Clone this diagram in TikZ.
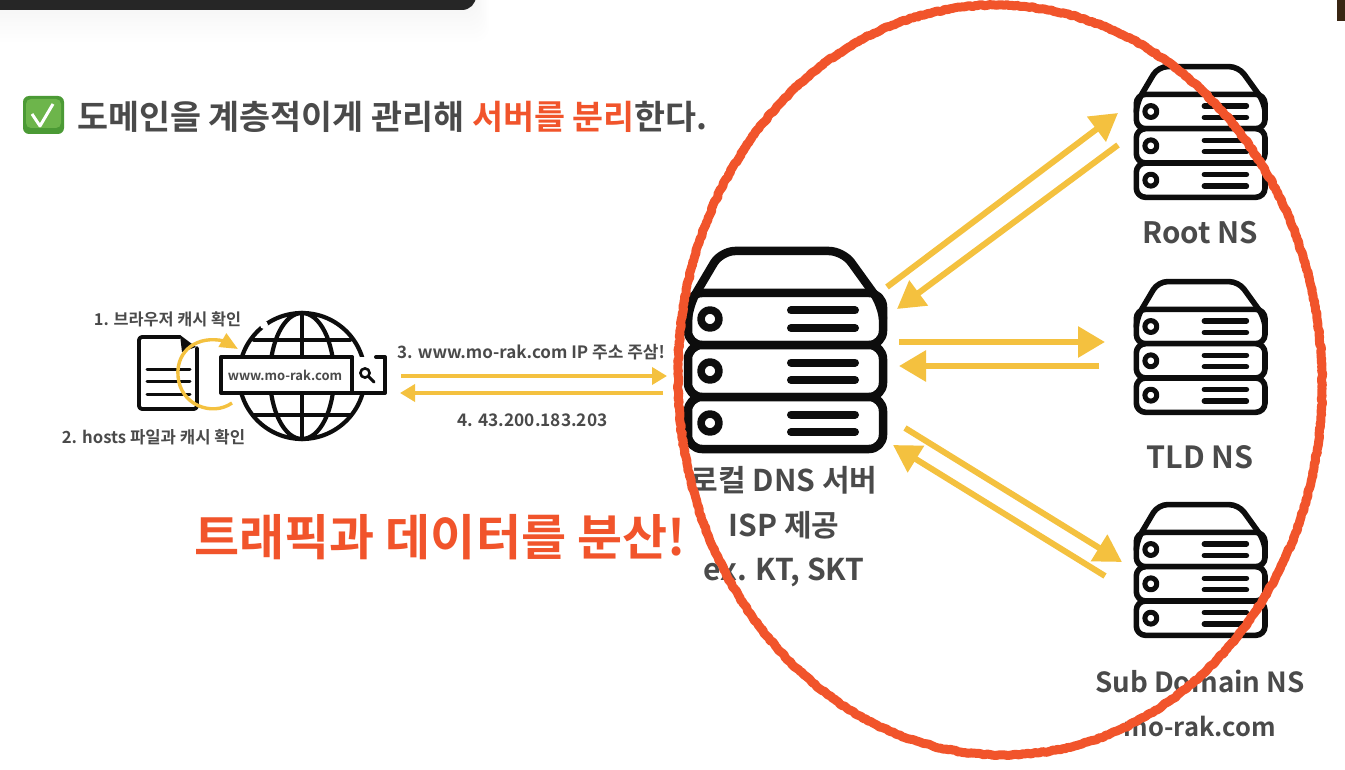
\documentclass[tikz,border=0pt]{standalone}
\usepackage{fontspec}
\setmainfont{Noto Sans CJK KR}[BoldFont={Noto Sans CJK KR Bold}]
\usetikzlibrary{arrows.meta,decorations.pathmorphing,calc}
\definecolor{ink}{HTML}{0D0D0D}
\definecolor{txt}{HTML}{4A4A4A}
\definecolor{amber}{HTML}{F4C13F}
\definecolor{brush}{HTML}{F1542B}
\definecolor{barblack}{HTML}{262626}
\definecolor{checkdark}{HTML}{4B9A35}
\definecolor{checklight}{HTML}{6DB54B}
\newcommand{\fs}[1]{\fontsize{#1pt}{#1pt}\selectfont\bfseries}
\tikzset{
  lab/.style={text=txt,inner sep=0pt,font=\fs{#1}},
  bigarrow/.style={draw=amber,line width=6pt,-{Triangle[length=27pt,width=30pt]}},
  smallarrow/.style={draw=amber,line width=3.6pt,-{Triangle[length=15pt,width=17pt]}},
  iconline/.style={draw=ink,line cap=round,line join=round},
  redstroke/.style={draw=brush,line join=round,line cap=round,decoration={random steps,segment length=2.5pt,amplitude=0.7pt},decorate}
}
\newcommand{\srv}[4]{%
 \begin{scope}[shift={(#2,#3)},x=#4pt,y=-#4pt]
  \node[minimum width=204*#4pt,minimum height=205*#4pt,inner sep=0pt] (#1) at (102,102) {};
  \foreach \yy in {46,98,150}{
   \draw[iconline,line width=8.5*#4pt,fill=white,rounded corners=14*#4pt] (5,\yy) rectangle (200,\yy+52);
   \draw[iconline,line width=7.6*#4pt] (27,\yy+26) circle (9);
   \draw[iconline,line width=8*#4pt] (108,\yy+17.5) -- (172,\yy+17.5) (108,\yy+35) -- (172,\yy+35);
  }
  \draw[iconline,line width=8.5*#4pt,rounded corners=14*#4pt]
     (5,72) -- (6,58) -- (38,4) -- (160,4) -- (199,58) -- (200,72);
 \end{scope}}
\begin{document}
\begin{tikzpicture}[x=1pt,y=-1pt]
\useasboundingbox (0,0) rectangle (1345,770);
\clip (0,0) rectangle (1345,770);
\fill[white] (0,0) rectangle (1345,770);
% top bar and its shadow
\foreach \d in {4,8,...,32}{\fill[black,opacity=0.005,rounded corners=14pt] (-20,-20) rectangle (476+\d*0.4,10+\d);}
\fill[barblack,rounded corners=14pt] (-20,-30) rectangle (476,10);
\fill[black!70!brown] (1337,0) rectangle (1345,21);
% heading
\fill[checkdark,rounded corners=6pt] (23,96) rectangle (64,134);
\fill[checklight,rounded corners=5pt] (26,99) rectangle (61,128);
\draw[white,line width=3pt,line join=round] (32,114) -- (40,126) -- (53,104);
\node[lab=33.7,anchor=west] (title) at (77,117) {도메인을 계층적이게 관리해 \textcolor{brush}{서버를 분리}한다.};
% servers
\srv{dns}{683}{247}{1}
\srv{root}{1133}{64}{0.66}
\srv{tld}{1133}{279}{0.66}
\srv{sub}{1133}{502}{0.66}
% labels of servers
\node[lab=30] (l1) at (784,480) {로컬 DNS 서버};
\node[lab=30] (l2) at (784,525) {ISP 제공};
\node[lab=30] (l3) at (784,572) {ex. KT, SKT};
\node[lab=29.5] (r1) at (1200,233) {Root NS};
\node[lab=30.5] (t1) at (1200,457) {TLD NS};
\node[lab=27.7] (s1) at (1200,681) {Sub Domain NS};
\node[lab=25.5] (s2) at (1200,727) {mo-rak.com};
\node[font=\fs{49},text=brush,inner sep=0pt] (slogan) at (440,537) {트래픽과 데이터를 분산!};
% big arrows
\coordinate (a1) at (887,287); \coordinate (a2) at (1118,113);
\coordinate (a3) at (1118,145); \coordinate (a4) at (897,309);
\coordinate (a5) at (899,342); \coordinate (a6) at (1105,342);
\coordinate (a7) at (1099,366); \coordinate (a8) at (899,366);
\coordinate (a9) at (905,428); \coordinate (a10) at (1122,562);
\coordinate (a11) at (1105,576); \coordinate (a12) at (893,445);
\draw[bigarrow] (a1) -- (a2);
\draw[bigarrow] (a3) -- (a4);
\draw[bigarrow] (a5) -- (a6);
\draw[bigarrow] (a7) -- (a8);
\draw[bigarrow] (a9) -- (a10);
\draw[bigarrow] (a11) -- (a12);
% document icon
\node[minimum width=61pt,minimum height=75pt,inner sep=0pt] (doc) at (167.5,372.5) {};
\draw[iconline,line width=3.8pt,rounded corners=3pt] (180,337) -- (139,337) -- (139,409) -- (197,409) -- (197,348);
\fill[ink] (180,335) -- (196,347) -- (182,352) -- cycle;
\draw[iconline,line width=3pt] (147,369) -- (190,369) (147,381) -- (190,381) (147,394) -- (190,394);
% globe icon
\node[circle,minimum size=128pt,inner sep=0pt] (globe) at (302,376) {};
\draw[iconline,line width=4.2pt] (302,376) circle (63);
\draw[iconline,line width=4.2pt] (302,376) ellipse (32 and 63);
\draw[iconline,line width=4.2pt] (302,313) -- (302,439);
\draw[iconline,line width=4.2pt] (254,340) -- (350,340) (254,415) -- (350,415);
\fill[white] (264,325) circle (4);
\draw[iconline,line width=4pt,fill=white] (352,357) -- (221,357) -- (221,393) -- (385,393) -- (385,357) -- (376,357);
\draw[iconline,line width=3.5pt] (352,357) -- (352,393);
\node[font=\fs{13},text=txt,inner sep=0pt] (url) at (285,375) {www.mo-rak.com};
\draw[iconline,line width=2.6pt] (365,373) circle (4.6);
\draw[iconline,line width=3pt] (369,377) -- (374,382);
% curved arrow
\coordinate (c1) at (232,403); \coordinate (c2) at (224,341);
\draw[draw=amber,line width=3.4pt,-{Triangle[length=18pt,width=15pt]}] (c1) .. controls (212,417) and (180,405) .. (178,376) .. controls (176,350) and (198,335) .. (c2) -- (238,349);
% small labels
\node[lab=16.3] (q1) at (167.5,319) {1. 브라우저 캐시 확인};
\node[lab=16.7] (q2) at (153.5,437) {2. hosts 파일과 캐시 확인};
\node[lab=17] (q3) at (531,352) {3. www.mo-rak.com IP 주소 주삼!};
\node[lab=17.3] (q4) at (532.5,420) {4. 43.200.183.203};
\coordinate (b1) at (401,376); \coordinate (b2) at (667,376);
\coordinate (b3) at (663,393); \coordinate (b4) at (400,393);
\draw[smallarrow] (b1) -- (b2);
\draw[smallarrow] (b3) -- (b4);
% hand-drawn ring
\draw[redstroke,line width=9pt,rotate around={2:(1000,380)}] (1000,380) ellipse (322 and 375);
\end{tikzpicture}
\end{document}
